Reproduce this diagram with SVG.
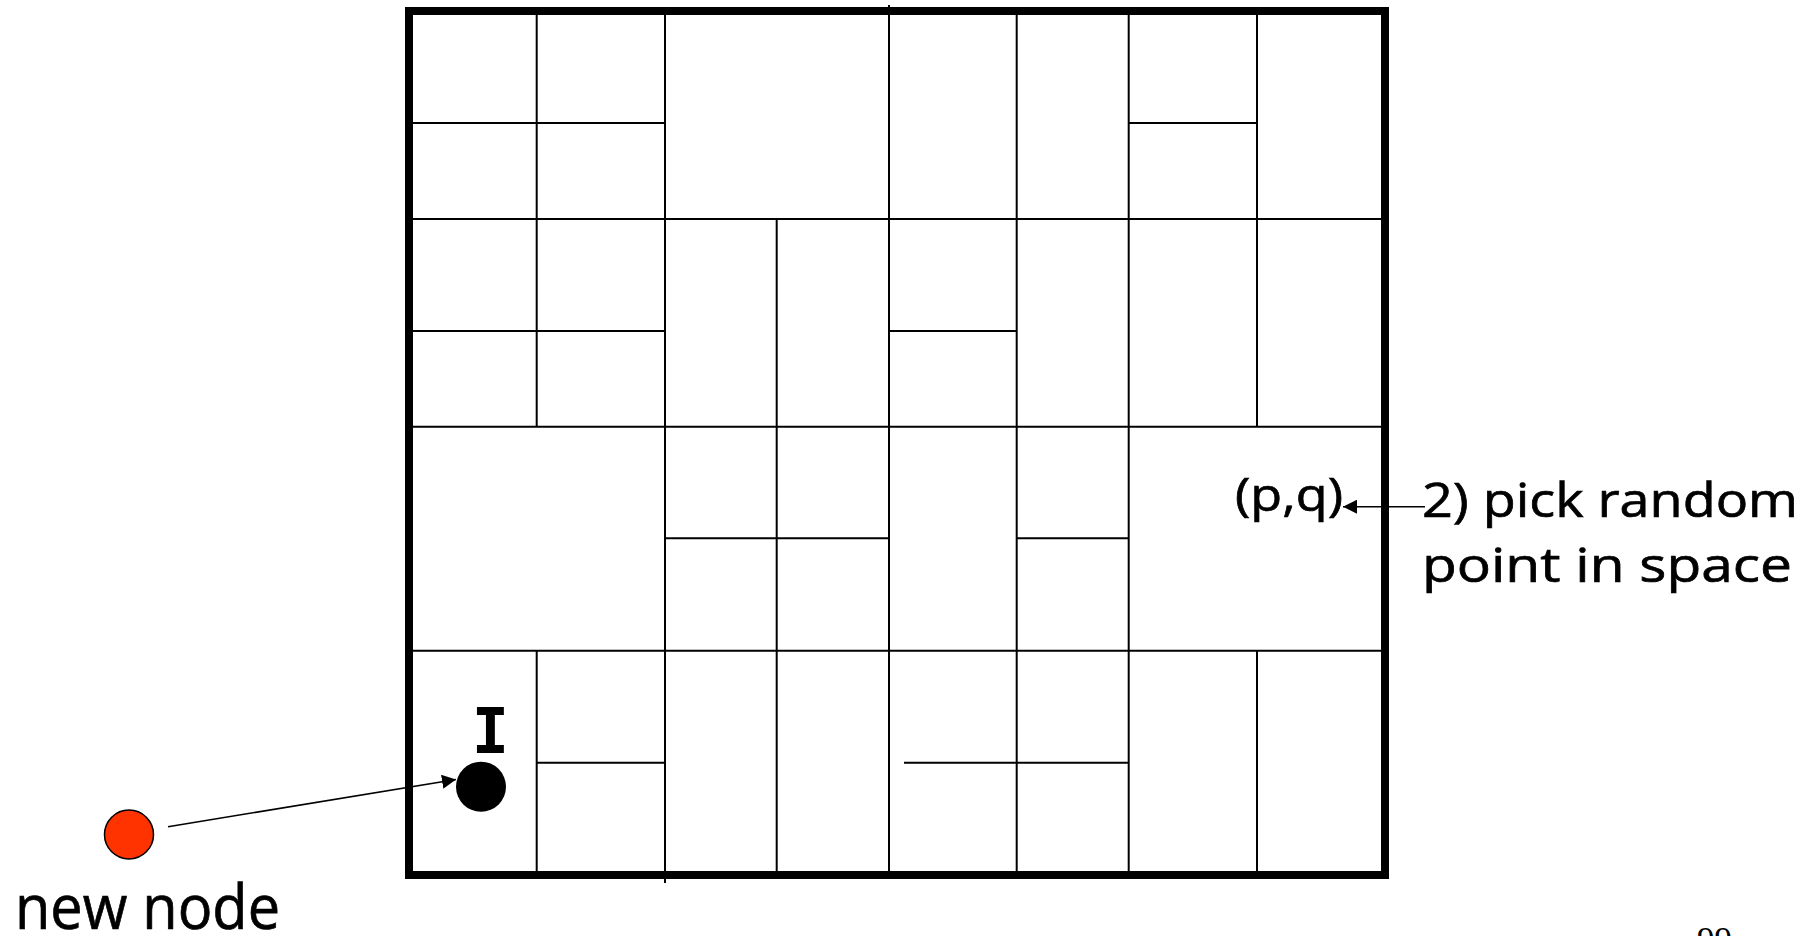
<svg xmlns="http://www.w3.org/2000/svg" width="1809" height="936" viewBox="0 0 1809 936">
<style>
.bg{fill:#ffffff}
.border{fill:none;stroke:#000;stroke-width:8}
.cell{stroke:#000;stroke-width:2;fill:none}
.conn{stroke:#000;stroke-width:1.6;fill:none}
.lbl{font-family:"Open Sans","Noto Sans","DejaVu Sans",sans-serif;fill:#000;stroke:#000;stroke-width:0.7}
.mono{font-family:"DejaVu Sans Mono","Liberation Mono",monospace;fill:#000;font-weight:bold}
.pg{font-family:"Liberation Serif","Times New Roman",serif;fill:#000}
</style>
<defs>
<marker id="arrow" markerUnits="userSpaceOnUse" markerWidth="14" markerHeight="14" refX="14" refY="7" orient="auto">
<path d="M0,0 L14,7 L0,14 z" fill="#000"/>
</marker>
</defs>
<rect class="bg" x="0" y="0" width="1809" height="936"/>

<g id="grid">
<g id="vertical-lines" class="cell">
<line x1="536.7" y1="11" x2="536.7" y2="426.7"/>
<line x1="536.7" y1="650.7" x2="536.7" y2="875"/>
<line x1="665" y1="11" x2="665" y2="883"/>
<line x1="776.7" y1="219" x2="776.7" y2="875"/>
<line x1="889" y1="5" x2="889" y2="879"/>
<line x1="1016.7" y1="11" x2="1016.7" y2="875"/>
<line x1="1128.7" y1="11" x2="1128.7" y2="875"/>
<line x1="1257" y1="11" x2="1257" y2="426.7"/>
<line x1="1257" y1="650.7" x2="1257" y2="875"/>
</g>
<g id="horizontal-lines" class="cell">
<line x1="409" y1="123" x2="665" y2="123"/>
<line x1="1128.7" y1="123" x2="1257" y2="123"/>
<line x1="409" y1="219" x2="1385" y2="219"/>
<line x1="409" y1="331" x2="665" y2="331"/>
<line x1="889" y1="331" x2="1016.7" y2="331"/>
<line x1="409" y1="426.7" x2="1385" y2="426.7"/>
<line x1="665" y1="538.3" x2="889" y2="538.3"/>
<line x1="1016.7" y1="538.3" x2="1128.7" y2="538.3"/>
<line x1="409" y1="650.7" x2="1385" y2="650.7"/>
<line x1="536.7" y1="762.7" x2="665" y2="762.7"/>
<line x1="904" y1="762.7" x2="1128.7" y2="762.7"/>
</g>
<rect id="outer-border" class="border" x="409" y="11" width="976" height="864"/>
</g>

<g id="connectors">
<line id="edge-new-to-I" class="conn" x1="168" y1="826.7" x2="456" y2="779.5" marker-end="url(#arrow)"/>
<line id="edge-label-to-pq" class="conn" x1="1425" y1="506.7" x2="1343" y2="506.7" marker-end="url(#arrow)"/>
</g>

<g id="node-new">
<circle cx="129" cy="834.5" r="24.5" fill="#FF3300" stroke="#000" stroke-width="1.5"/>
<text class="lbl" x="15" y="929" font-size="62" textLength="265" lengthAdjust="spacingAndGlyphs">new node</text>
</g>

<g id="node-I">
<circle cx="481" cy="786.7" r="25" fill="#000"/>
<text class="mono" x="490.5" y="753" font-size="62" text-anchor="middle">I</text>
</g>

<g id="node-pq">
<text class="lbl" x="1235" y="511" font-size="46" textLength="108" lengthAdjust="spacingAndGlyphs">(p,q)</text>
</g>

<g id="label-pick">
<text class="lbl" x="1422" y="517" font-size="48" textLength="376" lengthAdjust="spacingAndGlyphs">2) pick random</text>
<text class="lbl" x="1422" y="582" font-size="48" textLength="370" lengthAdjust="spacingAndGlyphs">point in space</text>
</g>

<text id="page-number" class="pg" x="1697" y="952" font-size="35" textLength="35" lengthAdjust="spacingAndGlyphs">99</text>
</svg>
